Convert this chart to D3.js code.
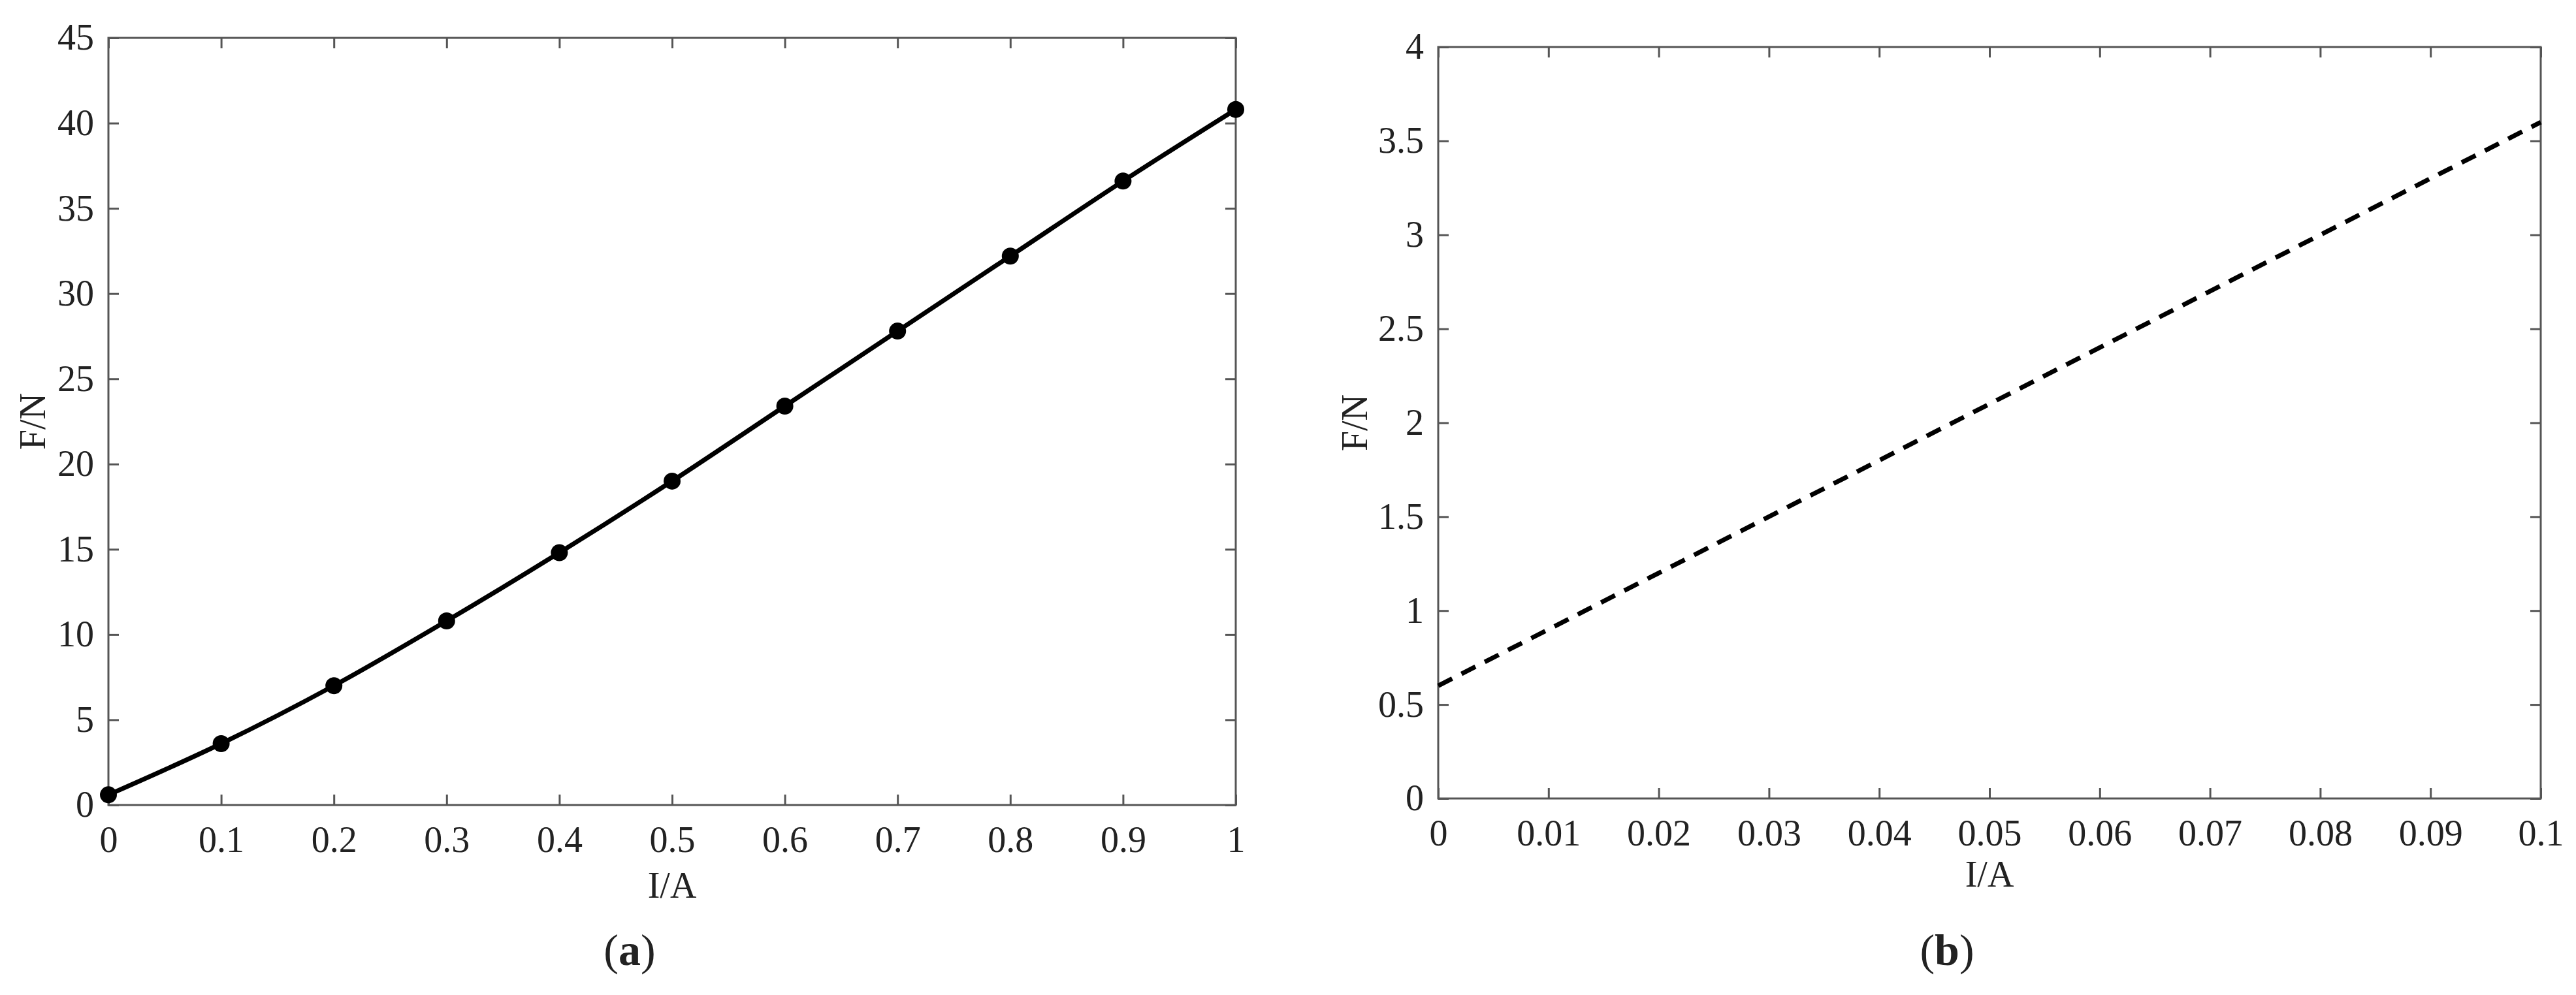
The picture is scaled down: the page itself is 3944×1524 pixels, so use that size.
<!DOCTYPE html>
<html><head><meta charset="utf-8">
<script src="https://cdn.jsdelivr.net/npm/d3@7"></script>
<style>body{margin:0;background:#fff}text{font-family:"Liberation Serif","DejaVu Serif",serif;fill:#222}</style>
</head><body><svg id="chart" width="3944" height="1524"></svg>
<script>
// panel (a) measured points
const currentA = [0, 0.1, 0.2, 0.3, 0.4, 0.5, 0.6, 0.7, 0.8, 0.9, 1.0];
const forceA = [0.6, 3.6, 7.0, 10.8, 14.8, 19.0, 23.4, 27.8, 32.2, 36.6, 40.8];
// panel (b) dashed line end points
const currentB = [0, 0.1];
const forceB = [0.6, 3.6];
const ticksAx = [0, 0.1, 0.2, 0.3, 0.4, 0.5, 0.6, 0.7, 0.8, 0.9, 1];
const ticksAy = [0, 5, 10, 15, 20, 25, 30, 35, 40, 45];
const ticksBx = [0, 0.01, 0.02, 0.03, 0.04, 0.05, 0.06, 0.07, 0.08, 0.09, 0.1];
const ticksBy = [0, 0.5, 1, 1.5, 2, 2.5, 3, 3.5, 4];

const svg = d3.select("#chart");
const fs = 56;

function panel(box, xDom, yDom, xt, yt, xs, ys, opts) {
  const x = d3.scaleLinear().domain(xDom).range([box.left, box.right]);
  const y = d3.scaleLinear().domain(yDom).range([box.bottom, box.top]);
  const g = svg.append("g");
  const axisStyle = sel => {
    sel.select(".domain").remove();
    sel.selectAll("line").attr("stroke", "#555").attr("stroke-width", 3);
    sel.selectAll("text").style("font-size", fs + "px").attr("fill", "#222");
  };
  g.append("g").attr("transform", `translate(0,${box.bottom})`)
    .call(d3.axisBottom(x).tickValues(xt).tickSizeInner(-16).tickSizeOuter(0).tickPadding(32).tickFormat(d3.format("")))
    .call(axisStyle);
  g.append("g").attr("transform", `translate(0,${box.top})`)
    .call(d3.axisTop(x).tickValues(xt).tickSizeInner(-16).tickSizeOuter(0).tickFormat(""))
    .call(axisStyle);
  g.append("g").attr("transform", `translate(${box.left},0)`)
    .call(d3.axisLeft(y).tickValues(yt).tickSizeInner(-16).tickSizeOuter(0).tickPadding(22).tickFormat(d3.format("")))
    .call(axisStyle);
  g.append("g").attr("transform", `translate(${box.right},0)`)
    .call(d3.axisRight(y).tickValues(yt).tickSizeInner(-16).tickSizeOuter(0).tickFormat(""))
    .call(axisStyle);
  g.append("rect").attr("x", box.left).attr("y", box.top)
    .attr("width", box.right - box.left).attr("height", box.bottom - box.top)
    .attr("fill", "none").attr("stroke", "#555").attr("stroke-width", 3);

  const pts = xs.map((v, i) => [v, ys[i]]);
  const line = d3.line().x(d => x(d[0])).y(d => y(d[1])).curve(d3.curveMonotoneX);
  g.append("path").attr("d", line(pts)).attr("fill", "none").attr("stroke", "#000")
    .attr("stroke-width", 7).attr("stroke-dasharray", opts.dash || null);
  if (opts.markers) {
    g.selectAll("circle.m").data(pts).enter().append("circle")
      .attr("cx", d => x(d[0])).attr("cy", d => y(d[1])).attr("r", 13).attr("fill", "#000");
  }
  const cx = (box.left + box.right) / 2;
  g.append("text").attr("x", cx).attr("y", box.bottom + opts.xlabOff).attr("text-anchor", "middle")
    .style("font-size", fs + "px").text("I/A");
  g.append("text").attr("transform", `translate(${box.left - opts.ylabOff},${(box.top + box.bottom) / 2}) rotate(-90)`)
    .attr("text-anchor", "middle").style("font-size", fs + "px").text("F/N");
  const lab = g.append("text").attr("x", cx - 65).attr("y", 1478).attr("text-anchor", "middle")
    .style("font-size", "68px");
  lab.append("tspan").text("(");
  lab.append("tspan").attr("font-weight", "bold").text(opts.tag);
  lab.append("tspan").text(")");
}

panel({left: 166, right: 1892, top: 58, bottom: 1233}, [0, 1], [0, 45], ticksAx, ticksAy,
  currentA, forceA, {markers: true, tag: "a", ylabOff: 97, xlabOff: 142});
panel({left: 2202, right: 3890, top: 72, bottom: 1223}, [0, 0.1], [0, 4], ticksBx, ticksBy,
  currentB, forceB, {dash: "24,16", tag: "b", ylabOff: 109, xlabOff: 135});
</script></body></html>
